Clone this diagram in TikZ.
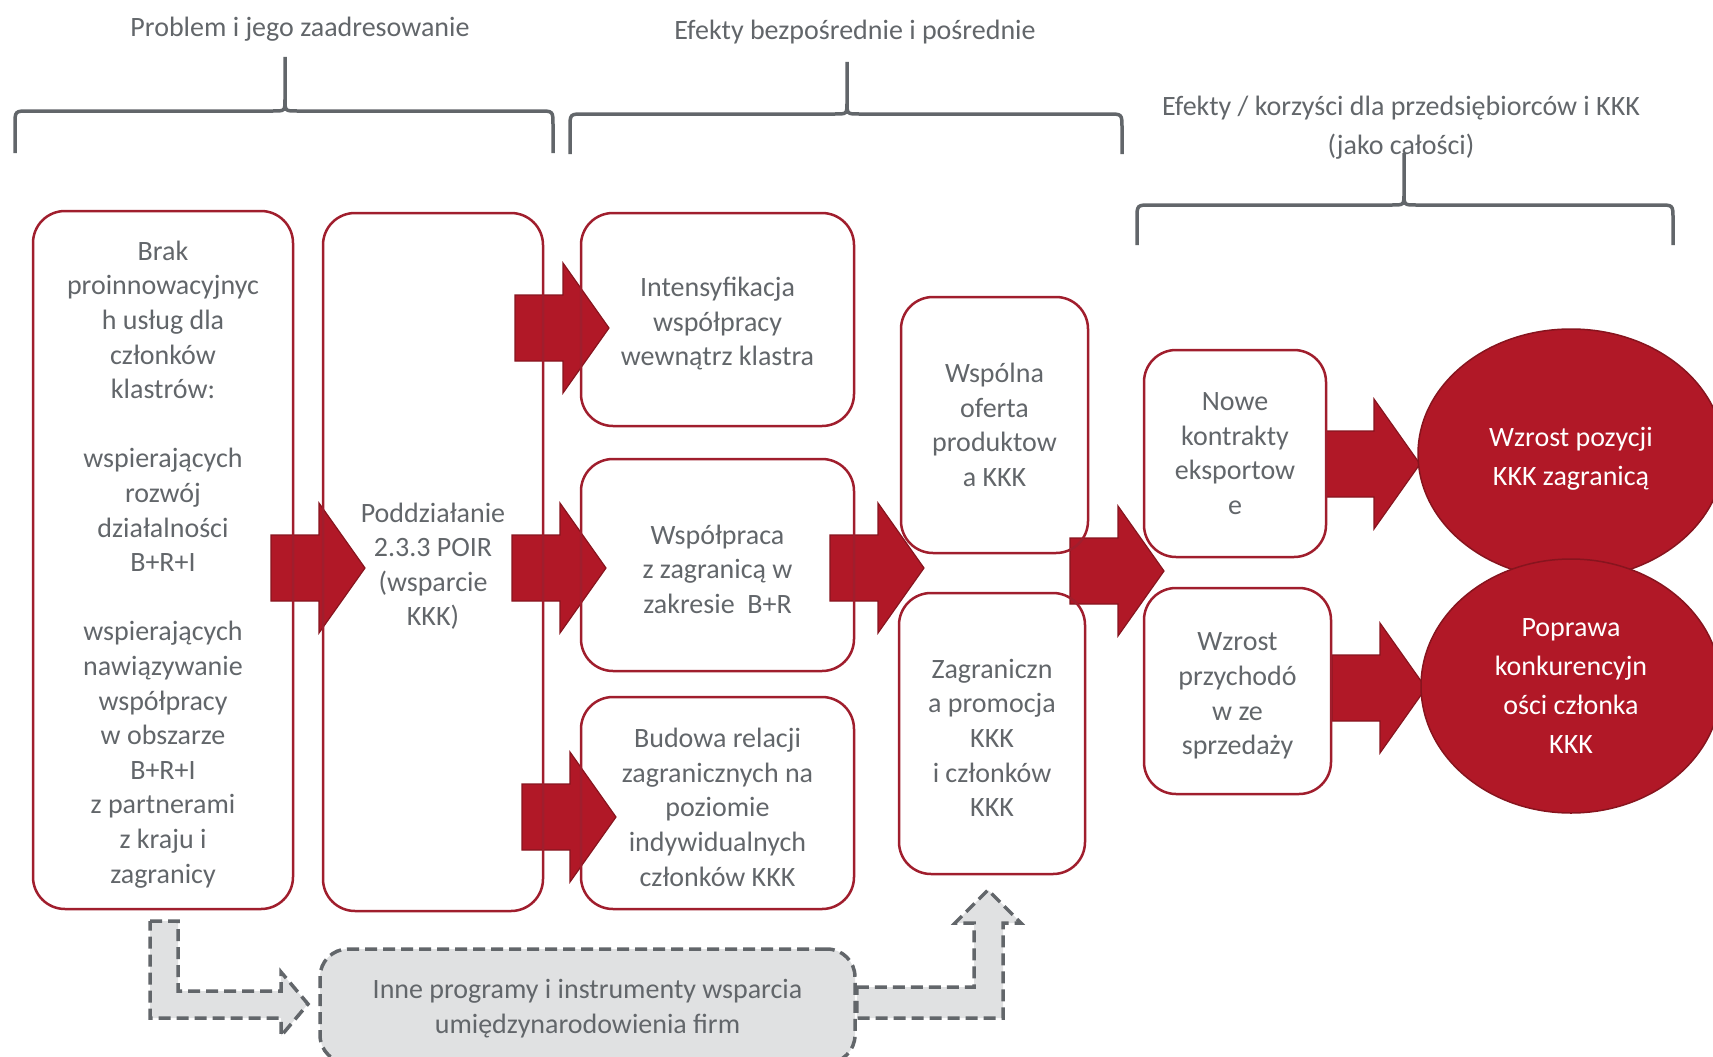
\documentclass[tikz,border=0pt]{standalone}
\usepackage{fontspec}
\setmainfont{Carlito}
\usetikzlibrary{shapes.geometric}
\definecolor{kkred}{RGB}{177,24,39}
\definecolor{kkline}{RGB}{160,30,45}
\definecolor{kkdark}{RGB}{135,20,30}
\definecolor{kkgray}{RGB}{98,102,106}
\definecolor{kkfill}{RGB}{224,225,226}
\newcommand{\topgap}{\rule{0pt}{28pt}}
\newcommand{\redarrow}[1]{\filldraw[redarrow] #1 ++(0,-33) -- ++(48,0) -- ++(0,-32) -- ++(46,65) -- ++(-46,65) -- ++(0,-32) -- ++(-48,0) -- cycle;}
\newcommand{\curlybrace}[6]{\draw[brace] (#1,#5) -- (#1,#4+14) .. controls (#1,#4) .. (#1+14,#4) -- (#3-12,#4) .. controls (#3,#4) .. (#3,#4-12) -- (#3,#6) (#3,#4-12) .. controls (#3,#4) .. (#3+12,#4) -- (#2-14,#4) .. controls (#2,#4) .. (#2,#4+14) -- (#2,#5);}
\begin{document}
\begin{tikzpicture}[x=1pt,y=-1pt,
  box/.style={draw=kkline,line width=2.5pt,rounded corners=32pt,align=center,text=kkgray,
    font=\fontsize{28}{34.6}\selectfont,inner sep=0pt},
  goal/.style={ellipse,fill=kkred,draw=kkdark,line width=1.5pt,align=center,text=white,
    font=\fontsize{28}{39}\selectfont,inner sep=0pt},
  head/.style={align=center,text=kkgray,font=\fontsize{28}{39}\selectfont},
  brace/.style={draw=kkgray,line width=3.5pt},
  redarrow/.style={fill=kkred,draw=kkdark,line width=1.2pt},
  grayarrow/.style={fill=kkfill,draw=kkgray,line width=3.5pt,dash pattern=on 12pt off 6pt}]
\clip (0,0) rectangle (1713,1057);

\node[head] (h1) at (300,29) {Problem i jego zaadresowanie};
\node[head] (h2) at (855,32) {Efekty bezpośrednie i pośrednie};
\node[head] (h3) at (1401,128) {Efekty / korzyści dla przedsiębiorców i KKK\\(jako całości)};
\curlybrace{15}{553}{285}{111}{153}{57}
\curlybrace{570}{1122}{847}{114}{154}{62}
\curlybrace{1137}{1673}{1404}{205}{245}{153}

\redarrow{(271,568)}
\redarrow{(515,328)}
\redarrow{(512,568)}
\redarrow{(522,817)}
\redarrow{(830,568)}
\redarrow{(1070,571)}
\redarrow{(1326,464)}
\redarrow{(1332,688)}

\node[box,minimum width=260pt,minimum height=698pt] (brak) at (163,560)
  {\topgap Brak\\proinnowacyjnyc\\h usług dla\\członków\\klastrów:\\[34.6pt]wspierających\\rozwój\\działalności\\B+R+I\\[34.6pt]wspierających\\nawiązywanie\\współpracy\\w obszarze\\B+R+I\\z partnerami\\z kraju i\\zagranicy};
\node[box,minimum width=220pt,minimum height=698pt] (poir) at (433,562) {\topgap Poddziałanie\\2.3.3 POIR\\(wsparcie\\KKK)};
\node[box,minimum width=273pt,minimum height=213pt] (intens) at (717.5,319.5) {\topgap Intensyfikacja\\współpracy\\wewnątrz klastra};
\node[box,minimum width=273pt,minimum height=212pt] (wspolpraca) at (717.5,565) {\topgap Współpraca\\z zagranicą w\\zakresie~ B+R};
\node[box,minimum width=273pt,minimum height=212pt] (relacje) at (717.5,803) {\topgap Budowa relacji\\zagranicznych na\\poziomie\\indywidualnych\\członków KKK};
\node[box,minimum width=187pt,minimum height=256pt] (oferta) at (994.5,425) {Wspólna\\oferta\\produktow\\a KKK};
\node[box,minimum width=186pt,minimum height=281pt] (promocja) at (992,733.5) {\topgap Zagraniczn\\a promocja\\KKK\\i członków\\KKK};
\node[box,minimum width=182pt,minimum height=207pt] (kontrakty) at (1235,453.5) {Nowe\\kontrakty\\eksportow\\e};
\node[box,minimum width=187pt,minimum height=206pt] (przychody) at (1237.5,691) {\topgap Wzrost\\przychodó\\w ze\\sprzedaży};

\node[goal,minimum width=306pt,minimum height=250pt] (pozycja) at (1571,454) {\topgap Wzrost pozycji\\KKK zagranicą};
\node[goal,minimum width=300pt,minimum height=254pt] (konkurencja) at (1571,686) {Poprawa\\konkurencyjn\\ości członka\\KKK};

\node[box,draw=kkgray,fill=kkfill,line width=3.5pt,dash pattern=on 12pt off 6pt,rounded corners=28pt,
  minimum width=535pt,minimum height=114pt] (inne) at (587.5,1006) {\rule{0pt}{24pt}Inne programy i instrumenty wsparcia\\umiędzynarodowienia firm};
\filldraw[grayarrow] (150,921) -- (178,921) -- (178,991) -- (281,991) -- (281,972) -- (308,1004) -- (281,1036) -- (281,1018) -- (150,1018) -- cycle;
\filldraw[grayarrow] (inne.east |- 0,987) -- (974,987) -- (974,923) -- (955,923) -- (988,890) -- (1021,923) -- (1003,923) -- (1003,1018) -- (inne.east |- 0,1018) -- cycle;
\end{tikzpicture}
\end{document}
